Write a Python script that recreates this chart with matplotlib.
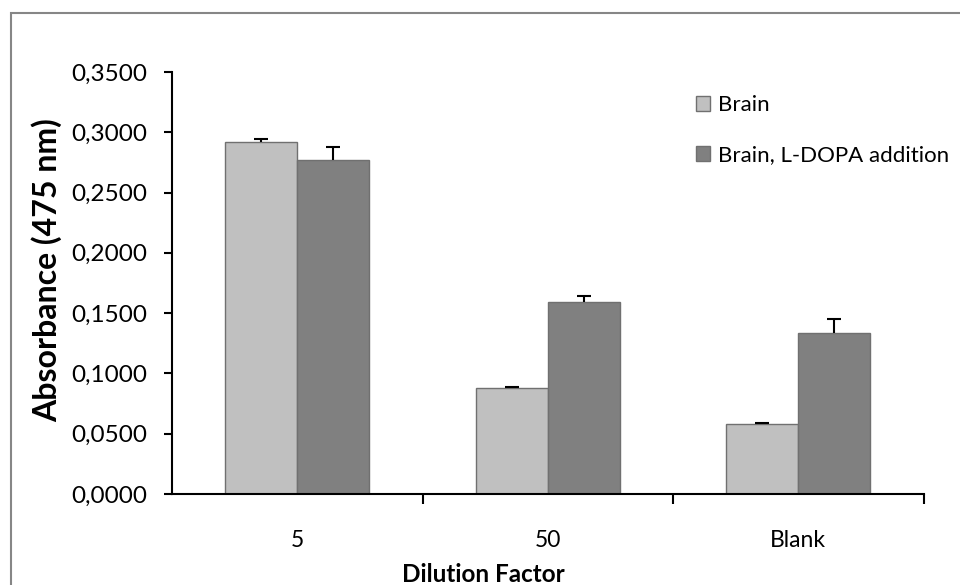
import numpy as np
import matplotlib.pyplot as plt
from matplotlib.patches import Rectangle
from matplotlib.ticker import FuncFormatter, FixedLocator

plt.rcParams['font.family'] = ['Lato', 'DejaVu Sans']

categories = ['5', '50', 'Blank']
brain = [0.2920, 0.0879, 0.0579]
brain_err = [0.0025, 0.0010, 0.0008]
ldopa = [0.2771, 0.1593, 0.1338]
ldopa_err = [0.0110, 0.0047, 0.0117]

fig = plt.figure(figsize=(9.6, 5.85), dpi=100)
ax = fig.add_axes([0.1792, 0.1556, 0.7828, 0.7214])

# outer chart border
fig.patches.append(Rectangle((11 / 960, -0.05), 1.0, 1.05 - 13 / 585,
                             transform=fig.transFigure, fill=False,
                             edgecolor='#868686', linewidth=1.5))

x = np.arange(len(categories))
w = 0.287
zeros = np.zeros(len(categories))
ax.bar(x - w / 2, brain, w, color='#c0c0c0', edgecolor='#707070', linewidth=1,
       label='Brain', zorder=2)
ax.bar(x + w / 2, ldopa, w, color='#808080', edgecolor='#707070', linewidth=1,
       label='Brain, L-DOPA addition', zorder=2)

# upper-only error bars, drop the cap sitting on the bar top
for xs, vals, errs in [(x - w / 2, brain, brain_err), (x + w / 2, ldopa, ldopa_err)]:
    eb = ax.errorbar(xs, vals, yerr=[zeros, errs], fmt='none', ecolor='black',
                     elinewidth=1.5, capsize=5, capthick=1.5, zorder=3)
    for cl in eb[1]:
        if np.allclose(cl.get_ydata(), vals):
            cl.set_visible(False)

ax.set_xlim(-0.5, 2.5)
ax.set_ylim(0, 0.35)
ax.set_yticks(np.arange(0, 0.3501, 0.05))
ax.yaxis.set_major_formatter(FuncFormatter(lambda v, p: f'{v:.4f}'.replace('.', ',')))
ax.set_xticks(x)
ax.set_xticklabels(categories)
ax.xaxis.set_minor_locator(FixedLocator([0.5, 1.5, 2.5]))

for s in ['top', 'right']:
    ax.spines[s].set_visible(False)
for s in ['left', 'bottom']:
    ax.spines[s].set_linewidth(1.5)
    ax.spines[s].set_color('black')

ax.tick_params(axis='y', direction='out', length=6, width=1.5, labelsize=17.5, pad=12)
ax.tick_params(axis='x', which='major', length=0, labelsize=16.5, pad=26)
ax.tick_params(axis='x', which='minor', direction='out', length=7, width=1.5)

ax.set_ylabel('Absorbance (475 nm)', fontsize=23, fontweight='bold')
ax.yaxis.set_label_coords(-0.146, 0.53)
ax.set_xlabel('Dilution Factor', fontsize=17.5, fontweight='bold')
ax.xaxis.set_label_coords(0.414, -0.163)

ax.legend(loc='upper left', bbox_to_anchor=(0.67, 0.993), frameon=False, fontsize=16,
          handlelength=0.65, handleheight=0.65, handletextpad=0.35, labelspacing=1.36)

fig.savefig('out.png', dpi=100)
